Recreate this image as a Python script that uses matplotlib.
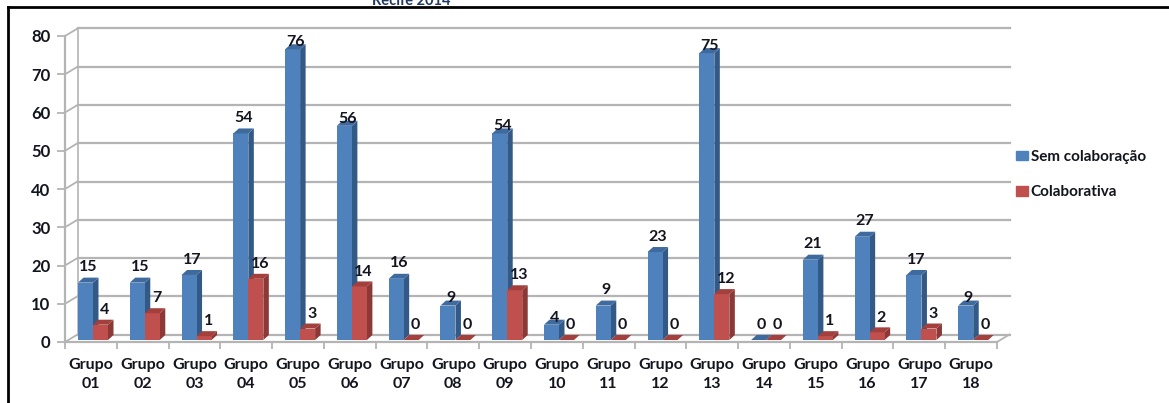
import numpy as np
import matplotlib
matplotlib.use('Agg')
import matplotlib.pyplot as plt
from matplotlib.patches import Patch

plt.rcParams['font.family'] = ['Lato', 'DejaVu Sans']

grupos = ['Grupo\n%02d' % i for i in range(1, 19)]
sem_colab = [15, 15, 17, 54, 76, 56, 16, 9, 54, 4, 9, 23, 75, 0, 21, 27, 17, 9]
colab = [4, 7, 1, 16, 3, 14, 0, 0, 13, 0, 0, 0, 12, 0, 1, 2, 3, 0]
yticks = list(range(0, 90, 10))

# groups whose blue label sits right on top of the bar
tight = {4, 5, 7, 8, 9, 12, 17}

W, H = 1169, 403
TXT = '#14141f'
GRID = '#b4b4b4'

fig = plt.figure(figsize=(W / 100, H / 100), dpi=100)
ax = fig.add_axes([65 / W, (H - 342) / H, 932 / W, 306 / H])
ax.set_xlim(0, 18)
ax.set_ylim(0, 80)

# sizes in data units, taken from pixels
px = 18 / 932
py = 80 / 306
wall_x, wall_y = 12.5 * px, 7.5 * py
dx, dy = 5.5 * px, 5 * py
base = 2 * py
bw = 15 * px


def bar3d(left, val, front, top, side):
    ax.bar(left, val, bw, bottom=base, align='edge', color=front, lw=0, zorder=3)
    ax.fill([left + bw, left + bw + dx, left + bw + dx, left + bw],
            [base, base + dy, base + val + dy, base + val], color=side, lw=0, zorder=2.5)
    ax.fill([left, left + dx, left + bw + dx, left + bw],
            [base + val, base + val + dy, base + val + dy, base + val], color=top, lw=0, zorder=3)


# back wall and floor
for v in yticks:
    ax.plot([wall_x, 18 + wall_x], [v + wall_y, v + wall_y], color=GRID, lw=1.6, zorder=1, clip_on=False)
    ax.plot([0, wall_x], [v, v + wall_y], color=GRID, lw=1.3, zorder=1, clip_on=False)
ax.plot([wall_x, wall_x], [wall_y, 80 + wall_y], color=GRID, lw=1.2, zorder=1, clip_on=False)
ax.plot([18, 18 + wall_x], [0, wall_y], color=GRID, lw=1.3, zorder=1, clip_on=False)

for i in range(18):
    x0 = i + 13 * px
    bar3d(x0, sem_colab[i], '#4f81bd', '#3f6a9e', '#335a87')
    bar3d(x0 + bw, colab[i], '#c0504d', '#a33f3c', '#8c3836')
    off = -3.5 if i in tight else 2.5
    ax.annotate(str(sem_colab[i]), (x0 + bw / 2 + dx / 2, base + sem_colab[i] + dy), xytext=(0, off),
                textcoords='offset points', ha='center', va='bottom', fontsize=11.5,
                fontweight='bold', color=TXT, zorder=5)
    ax.annotate(str(colab[i]), (x0 + bw * 1.5 + dx, base + colab[i] + dy), xytext=(-1, 2),
                textcoords='offset points', ha='center', va='bottom', fontsize=11.5,
                fontweight='bold', color=TXT, zorder=5)

for s in ['top', 'right']:
    ax.spines[s].set_visible(False)
for s in ['left', 'bottom']:
    ax.spines[s].set_color(GRID)
    ax.spines[s].set_linewidth(1.6)
ax.patch.set_alpha(0)

ax.set_yticks(yticks)
ax.set_xticks(np.arange(19))
ax.set_xticklabels([])
ax.set_xticks(np.arange(18) + 0.5, grupos, minor=True, linespacing=1.45)
ax.tick_params(axis='x', which='major', length=5, width=1.3, color=GRID)
ax.tick_params(axis='x', which='minor', length=0, pad=11.5, labelsize=11.5, labelcolor=TXT)
ax.tick_params(axis='y', length=6, width=1.3, color=GRID, pad=4.5, labelsize=12, labelcolor=TXT)
for lab in ax.get_xticklabels(minor=True) + ax.get_yticklabels():
    lab.set_fontweight('bold')

# legend
handles = [Patch(color='#4f81bd', label='Sem colaboração'), Patch(color='#c0504d', label='Colaborativa')]
fig.legend(handles=handles, loc='upper left', bbox_to_anchor=(1016 / W, 1 - 150 / H), frameon=False,
           prop={'weight': 'bold', 'size': 11}, labelcolor=TXT, handlelength=0.8, handleheight=0.6,
           handletextpad=0.15, labelspacing=1.4, borderpad=0, borderaxespad=0)

# page frame and cut-off caption above it
fig.text(411 / W, 1 - 1 / H, 'Recife 2014', ha='center', va='center', fontsize=10.5,
         fontweight='bold', color='#1f3864')
fig.add_artist(plt.Line2D([8 / W, 8 / W], [0, 1 - 7 / H], color='black', lw=2))
fig.add_artist(plt.Line2D([8 / W, 1], [1 - 7 / H, 1 - 7 / H], color='black', lw=2))

fig.savefig('out.png', dpi=100)
